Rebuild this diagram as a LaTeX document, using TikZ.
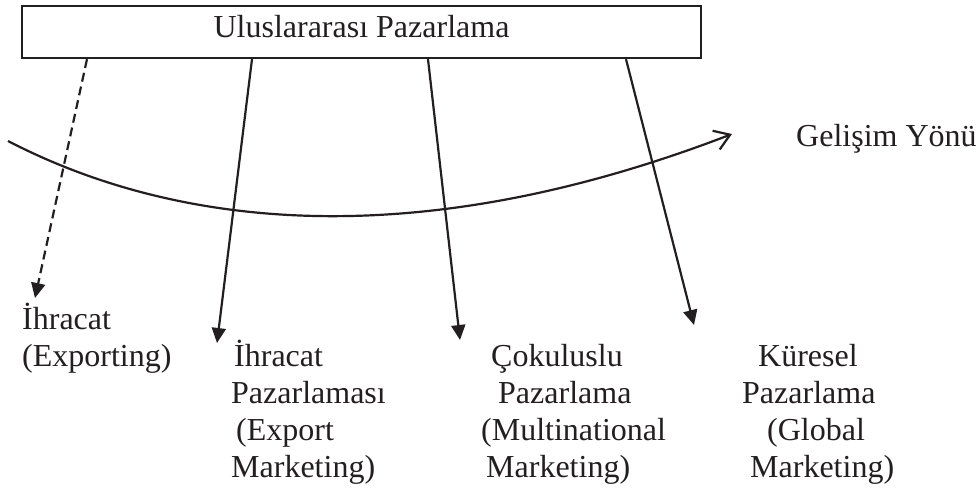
\documentclass[tikz,border=0pt]{standalone}
\usepackage{fontspec}
\setmainfont{Liberation Serif}
\usepackage{tikz}
\usetikzlibrary{arrows.meta, calc}
\definecolor{myink}{RGB}{35,31,32}
\tikzset{
  mainbox/.style={rectangle, draw=myink, line width=2.3pt,
    minimum width=679pt, minimum height=52pt, inner sep=0pt},
  lbl/.style={anchor=base west, inner sep=0pt, align=left, text=myink},
  arrow/.style={-{Triangle[length=15pt, width=14pt]}, line width=2.2pt, color=myink},
  dasharrow/.style={arrow, dash pattern=on 9pt off 5pt},
  trend/.style={-{Straight Barb[length=15pt, width=20pt]}, line width=2.2pt, color=myink}
}
\begin{document}
\begin{tikzpicture}[x=1pt, y=-1pt, font=\fontsize{32}{37}\selectfont]
  \useasboundingbox (0,0) rectangle (978,488);

  % Top box
  \node[mainbox] (top) at (361.5,32) {};
  \node[lbl, anchor=base] (title) at ($(top.south)+(0,-22)$) {Uluslararası Pazarlama};

  % Labels below (anchored at the last baseline)
  \node[lbl] (exp) at (22,366) {İhracat\\(Exporting)};
  \node[lbl] (expm) at (231,477) {\hspace*{3pt}İhracat\\Pazarlaması\\\hspace*{5pt}(Export\\Marketing)};
  \node[lbl] (multi) at (481,477) {\hspace*{10pt}Çokuluslu\\\hspace*{17pt}Pazarlama\\(Multinational\\\hspace*{5pt}Marketing)};
  \node[lbl] (glob) at (742,477) {\hspace*{16pt}Küresel\\Pazarlama\\\hspace*{25pt}(Global\\\hspace*{8pt}Marketing)};
  \node[lbl] (dir) at (796,146) {Gelişim Yönü};

  % Arrow ends
  \coordinate (t1) at (35,298);
  \coordinate (t2) at (217,343);
  \coordinate (t3) at (460,340);
  \coordinate (t4) at (694,325);

  % Arrows from the box
  \draw[dasharrow] ($(top.south)+(-274.5,0)$) -- (t1);
  \draw[arrow] ($(top.south)+(-109.5,0)$) -- (t2);
  \draw[arrow] ($(top.south)+(66.5,0)$) -- (t3);
  \draw[arrow] ($(top.south)+(264.5,0)$) -- (t4);

  % Direction curve
  \coordinate (cs) at (8,141);
  \coordinate (ce) at (732,134);
  \draw[trend] (cs) .. controls (180,230) and (420,254) .. (ce);
\end{tikzpicture}
\end{document}
